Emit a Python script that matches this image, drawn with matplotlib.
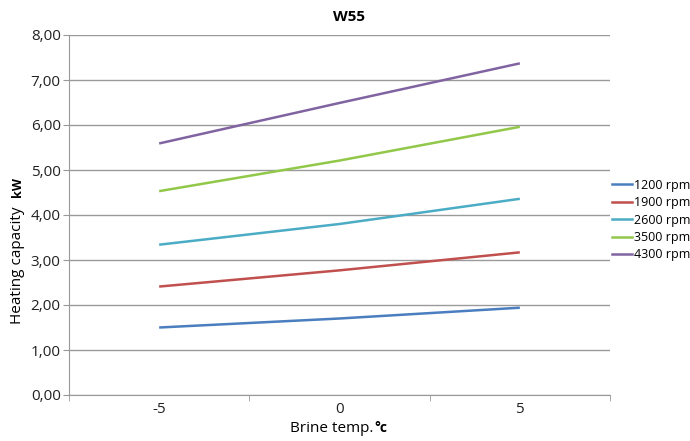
import matplotlib
matplotlib.use("Agg")
import matplotlib.pyplot as plt
from matplotlib.lines import Line2D

plt.rcParams['font.family'] = ['Open Sans', 'DejaVu Sans']

# brine temperature (°C)
brine_temp = [-5, 0, 5]

# heating capacity (kW) per compressor speed
rpm_1200 = [1.50, 1.70, 1.94]
rpm_1900 = [2.41, 2.77, 3.17]
rpm_2600 = [3.34, 3.80, 4.36]
rpm_3500 = [4.53, 5.21, 5.96]
rpm_4300 = [5.59, 6.49, 7.37]

series = [
    ("1200 rpm", rpm_1200, "#4a7ebf"),
    ("1900 rpm", rpm_1900, "#c0504d"),
    ("2600 rpm", rpm_2600, "#4bacc6"),
    ("3500 rpm", rpm_3500, "#92c84a"),
    ("4300 rpm", rpm_4300, "#8064a2"),
]

y_ticks = [0, 1, 2, 3, 4, 5, 6, 7, 8]
y_tick_labels = [f"{v:.2f}".replace(".", ",") for v in y_ticks]

fig = plt.figure(figsize=(6.9, 4.41), dpi=100)
ax = fig.add_axes([69/690, 1 - 395/441, (610 - 69)/690, (395 - 35)/441])

for name, vals, col in series:
    ax.plot(brine_temp, vals, color=col, lw=1.8, label=name, solid_capstyle='butt')

ax.set_xlim(-7.5, 7.5)
ax.set_ylim(0, 8)
ax.set_yticks(y_ticks)
ax.set_yticklabels(y_tick_labels, fontsize=11, color='#222222')
ax.set_xticks(brine_temp)
ax.set_xticklabels([str(t) for t in brine_temp], fontsize=11, color='#222222')
ax.tick_params(axis='x', length=0, pad=5)
ax.set_xticks([-7.5, -2.5, 2.5, 7.5], minor=True)
ax.tick_params(axis='x', which='minor', length=4, color='#999999', direction='out')
ax.tick_params(axis='y', length=4, color='#999999', pad=2)

ax.grid(axis='y', color='#9a9a9a', lw=1.0)
ax.set_axisbelow(True)
for s in ['top', 'right']:
    ax.spines[s].set_visible(False)
ax.spines['left'].set_color('#999999')
ax.spines['bottom'].set_color('#999999')

fig.text(349/690, 1 - 17/441, "W55", ha='center', va='center', fontsize=11, fontweight='bold')

# y label (Excel style, bold unit)
fig.text(18/690, 1 - 265/441, "Heating capacity", rotation=90, ha='center', va='center', fontsize=11)
fig.text(18/690, 1 - 187/441, "kW", rotation=90, ha='center', va='center', fontsize=9, fontweight='bold')

# x label
fig.text(373/690, 1 - 428/441, "Brine temp.", ha='right', va='center', fontsize=11)
fig.text(374/690, 1 - 428/441, "°c", ha='left', va='center', fontsize=10, fontweight='bold')

handles = [Line2D([], [], color=c, lw=1.8) for _, _, c in series]
leg = fig.legend(handles, [n for n, _, _ in series], loc='center left',
                 bbox_to_anchor=(612/690, 1 - 220/441), frameon=False,
                 fontsize=9, handlelength=1.6, handletextpad=0.15,
                 labelspacing=0.35, borderaxespad=0, borderpad=0)

fig.savefig("out.png", dpi=100)
